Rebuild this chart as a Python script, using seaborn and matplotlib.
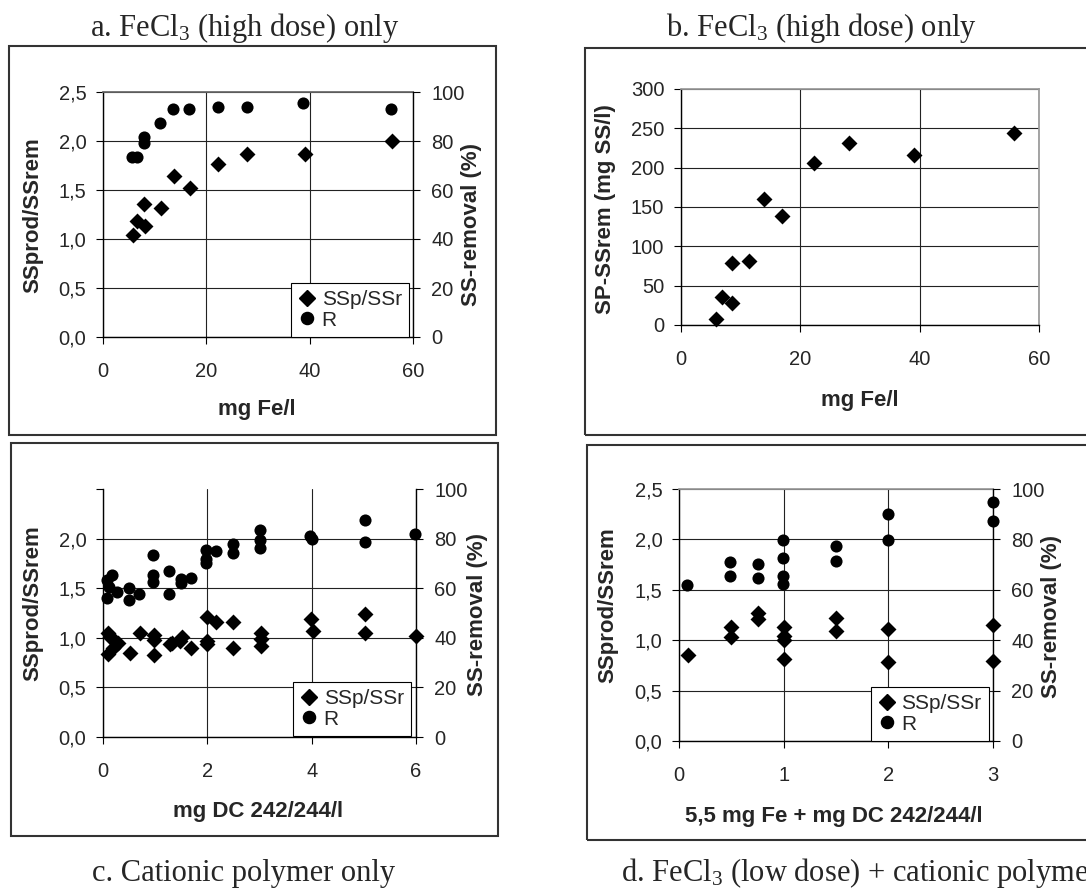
import matplotlib.pyplot as plt
import seaborn as sns
import pandas as pd
from matplotlib.patches import Rectangle
from matplotlib.lines import Line2D

W, H = 1086, 888

# a. FeCl3 (high dose) only
a_dose = [5.9, 6.5, 7.95, 8.15, 11.2, 13.7, 16.9, 22.2, 27.8, 39.1, 55.9]
a_ratio = [1.04, 1.18, 1.36, 1.13, 1.32, 1.64, 1.52, 1.77, 1.87, 1.87, 2.00]
a_dose_r = [5.6, 6.5, 7.9, 7.9, 11.0, 13.5, 16.6, 22.2, 27.8, 38.8, 55.8]
a_removal = [73.5, 73.5, 81.7, 79.2, 87.4, 92.9, 92.9, 93.9, 93.9, 95.5, 92.9]

# b. FeCl3 (high dose) only
b_dose = [5.8, 6.9, 8.5, 8.5, 11.4, 13.9, 16.9, 22.3, 28.1, 39.0, 55.8]
b_sp = [8, 36, 28, 79, 81, 160, 139, 206, 231, 216, 244]

# c. cationic polymer only
c_dose = [0.10, 0.13, 0.22, 0.29, 0.19, 0.10, 0.51, 0.70, 0.98, 0.98, 0.98, 1.28, 1.32,
          1.51, 1.47, 1.69, 1.99, 1.99, 1.99, 2.17, 2.50, 2.50, 3.02, 3.02, 3.02, 3.99,
          4.02, 5.02, 5.02, 6.00]
c_ratio = [1.05, 1.01, 0.98, 0.95, 0.90, 0.835, 0.85, 1.05, 1.03, 0.98, 0.83, 0.94, 0.95,
           1.01, 0.97, 0.90, 1.21, 0.97, 0.94, 1.16, 1.16, 0.90, 1.05, 0.99, 0.92, 1.19,
           1.07, 1.24, 1.05, 1.02]
c_dose_r = [0.08, 0.17, 0.12, 0.26, 0.08, 0.49, 0.49, 0.69, 0.96, 0.96, 0.96, 1.26, 1.26,
            1.50, 1.50, 1.69, 1.97, 1.97, 1.97, 2.16, 2.49, 2.49, 3.01, 3.01, 3.01, 3.97,
            4.00, 5.02, 5.02, 5.98]
c_removal = [63.2, 65.2, 60.4, 58.4, 56.0, 60.0, 55.2, 57.6, 73.2, 65.2, 62.4, 66.8, 57.6,
             63.6, 62.0, 64.0, 75.6, 71.6, 70.0, 74.8, 78.0, 74.0, 83.6, 79.6, 76.4, 81.2,
             80.0, 87.6, 78.8, 82.0]

# d. FeCl3 (low dose) + cationic polymer
d_dose = [0.09, 0.50, 0.50, 0.755, 0.755, 1.0, 1.0, 1.0, 1.0, 1.5, 1.5, 2.0, 2.0, 3.0, 3.0]
d_ratio = [0.85, 1.13, 1.03, 1.27, 1.21, 1.13, 1.04, 1.00, 0.81, 1.22, 1.09, 1.11, 0.78, 1.15, 0.79]
d_dose_r = [0.08, 0.49, 0.49, 0.755, 0.755, 0.99, 0.99, 0.99, 0.99, 1.5, 1.5, 2.0, 2.0, 3.0, 3.0]
d_removal = [62.0, 71.0, 65.3, 70.2, 64.8, 79.6, 72.8, 65.4, 62.2, 77.2, 71.6, 89.9, 79.6, 94.8, 87.5]

ratio_ticks = [0, 0.5, 1.0, 1.5, 2.0, 2.5]
ratio_labels = ['0,0', '0,5', '1,0', '1,5', '2,0', '2,5']
removal_ticks = [0, 20, 40, 60, 80, 100]

sns.set_theme(style='white')
plt.rcParams['font.family'] = ['Liberation Sans', 'DejaVu Sans']
plt.rcParams['mathtext.default'] = 'regular'

TICK_FS = 14.5
DIAMOND_S = 66
CIRCLE_S = 76

fig = plt.figure(figsize=(W / 100, H / 100), dpi=100)


def rect(l, t, r, b):
    return [l / W, 1 - b / H, (r - l) / W, (b - t) / H]


def ftext(x, y, s, **kw):
    fig.text(x / W, 1 - y / H, s, ha='center', va='center', **kw)


def frame(l, t, r, b):
    fig.add_artist(Rectangle((l / W, 1 - b / H), (r - l) / W, (b - t) / H,
                             transform=fig.transFigure, fill=False, ec='#333333', lw=1.5))


def base_axes(pos, xlim, xticks, ylim, yticks, ylabels):
    ax = fig.add_axes(rect(*pos))
    ax.set_xlim(xlim)
    ax.set_xticks(xticks)
    ax.set_ylim(ylim)
    ax.set_yticks(yticks)
    ax.set_yticklabels(ylabels)
    ax.grid(True, color='#222222', lw=0.8)
    ax.set_axisbelow(True)
    ax.tick_params(axis='both', direction='out', length=5, width=0.8, color='black',
                   labelsize=TICK_FS, bottom=True, left=True)
    ax.tick_params(axis='x', pad=13)
    ax.tick_params(axis='y', pad=7)
    for s in ['left', 'bottom']:
        ax.spines[s].set_color('black')
        ax.spines[s].set_linewidth(1.0)
    ax.spines['right'].set_visible(False)
    ax.spines['top'].set_color('#666666')
    return ax


def twin(ax):
    ax2 = ax.twinx()
    ax2.set_ylim(0, 100)
    ax2.set_yticks(removal_ticks)
    ax2.grid(False)
    ax2.tick_params(axis='y', direction='out', length=5, width=0.8, color='black',
                    labelsize=TICK_FS, right=True, pad=8)
    ax2.spines['right'].set_color('black')
    ax2.spines['right'].set_linewidth(1.0)
    for s in ['left', 'top', 'bottom']:
        ax2.spines[s].set_visible(False)
    return ax2


def add_legend(ax2, anchor):
    handles = [Line2D([], [], marker='D', ls='', color='black', ms=DIAMOND_S ** 0.5),
               Line2D([], [], marker='o', ls='', color='black', ms=CIRCLE_S ** 0.5)]
    leg = ax2.legend(handles, ['SSp/SSr', 'R'], loc='lower right', bbox_to_anchor=anchor,
                     borderaxespad=0, frameon=True, fancybox=False, framealpha=1,
                     edgecolor='black', fontsize=15, borderpad=0.35, labelspacing=0.08,
                     handlelength=0.8, handletextpad=0.3)
    leg.get_frame().set_linewidth(0.8)


def points(ax, x, y, marker, s):
    df = pd.DataFrame({'x': x, 'y': y})
    sns.scatterplot(data=df, x='x', y='y', marker=marker, s=s, color='black',
                    linewidth=0, ax=ax, clip_on=False, zorder=5)
    ax.set_xlabel('')
    ax.set_ylabel('')


# frames
frame(9, 46, 496, 435)
frame(585, 48, 1100, 435)
frame(11, 443, 498, 836)
frame(587, 445, 1100, 840)

# panel a
ax = base_axes((103, 92, 413, 337), (0, 60), [0, 20, 40, 60], (0, 2.5), ratio_ticks, ratio_labels)
ax2 = twin(ax)
points(ax, a_dose, a_ratio, 'D', DIAMOND_S)
points(ax2, a_dose_r, a_removal, 'o', CIRCLE_S)
add_legend(ax2, (0.987, 0.0))

# panel b
ax = base_axes((681, 89, 1039, 325), (0, 60), [0, 20, 40, 60], (0, 300),
               [0, 50, 100, 150, 200, 250, 300], ['0', '50', '100', '150', '200', '250', '300'])
ax.spines['right'].set_visible(True)
ax.spines['right'].set_color('#999999')
ax.spines['top'].set_color('#999999')
points(ax, b_dose, b_sp, 'D', DIAMOND_S)

# panel c
ax = base_axes((103, 489, 416, 737), (0, 6), [0, 2, 4, 6], (0, 2.5), ratio_ticks,
               ratio_labels[:-1] + [''])
ax.spines['top'].set_visible(False)
ax.yaxis.get_gridlines()[-1].set_visible(False)
ax2 = twin(ax)
points(ax, c_dose, c_ratio, 'D', DIAMOND_S)
points(ax2, c_dose_r, c_removal, 'o', CIRCLE_S)
add_legend(ax2, (0.984, 0.004))

# panel d
ax = base_axes((679, 489, 993, 741), (0, 3), [0, 1, 2, 3], (0, 2.5), ratio_ticks, ratio_labels)
ax.spines['top'].set_color('#999999')
ax2 = twin(ax)
points(ax, d_dose, d_ratio, 'D', DIAMOND_S)
points(ax2, d_dose_r, d_removal, 'o', CIRCLE_S)
add_legend(ax2, (0.987, 0.0))

# axis labels
lab = dict(fontsize=16, fontweight='bold')
ftext(33, 215, 'SSprod/SSrem', rotation=90, **lab)
ftext(472, 224, 'SS-removal (%)', rotation=90, **lab)
ftext(257, 409, 'mg Fe/l', **lab)
ftext(605, 209, 'SP-SSrem (mg SS/l)', rotation=90, **lab)
ftext(860, 400, 'mg Fe/l', **lab)
ftext(33, 603, 'SSprod/SSrem', rotation=90, **lab)
ftext(477, 615, 'SS-removal (%)', rotation=90, **lab)
ftext(258, 811, 'mg DC 242/244/l', **lab)
ftext(608, 605, 'SSprod/SSrem', rotation=90, **lab)
ftext(1052, 616, 'SS-removal (%)', rotation=90, **lab)
ftext(834, 816, '5,5 mg Fe + mg DC 242/244/l', **lab)

# captions
cap = dict(fontsize=22, family=['Liberation Serif', 'DejaVu Serif'])
ftext(245, 28, 'a. FeCl$_3$ (high dose) only', **cap)
ftext(821, 28, 'b. FeCl$_3$ (high dose) only', **cap)
ftext(244, 873, 'c. Cationic polymer only', **cap)
fig.text(621 / W, 1 - 873 / H, 'd. FeCl$_3$ (low dose) + cationic polymer', ha='left', va='center', **cap)

fig.savefig('out.png', dpi=100)
